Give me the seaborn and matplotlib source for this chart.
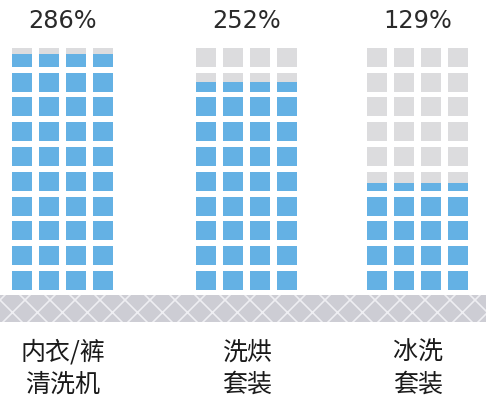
import pandas as pd
import matplotlib.pyplot as plt
import seaborn as sns

# data
categories = ['内衣/裤\n清洗机', '洗烘\n套装', '冰洗\n套装']
values = [286, 252, 129]          # percent
value_labels = ['286%', '252%', '129%']
full_scale = 300                  # 10 rows = 300%
n_rows = 10
n_cols = 4

BLUE = '#64B1E4'
GRAY = '#DCDCDE'
BAND = '#CDCDD4'

W, H, DPI = 486, 401, 150

# layout in pixels
group_left = [12, 196, 367]
col_pitch = 27.1
cell_w = 20
row_pitch = 24.8
cell_h = 19
base_y = 290


def to_rows(ypix):
    # pixel row (from top) -> data units (rows above grid bottom)
    return (base_y - ypix) / row_pitch


cells = []
for cat, val, left in zip(categories, values, group_left):
    for c in range(n_cols):
        cells.append({'cat': cat,
                      'x': left + c * col_pitch + cell_w / 2,
                      'full': n_rows,
                      'fill': val / full_scale * n_rows})
df = pd.DataFrame(cells)

sns.set_theme(style='white')
plt.rcParams['font.family'] = ['Noto Sans CJK SC', 'DejaVu Sans']
plt.rcParams['hatch.linewidth'] = 0.8

fig = plt.figure(figsize=(W / DPI, H / DPI), dpi=DPI)
ax = fig.add_axes([0, 0, 1, 1])

sns.barplot(data=df, x='x', y='full', native_scale=True, width=cell_w / col_pitch,
            color=GRAY, saturation=1, errorbar=None, linewidth=0, zorder=1, ax=ax)
sns.barplot(data=df, x='x', y='fill', native_scale=True, width=cell_w / col_pitch,
            color=BLUE, saturation=1, errorbar=None, linewidth=0, zorder=2, ax=ax)

# white gaps between rows of squares
for r in range(n_rows):
    ax.axhspan(r + cell_h / row_pitch, r + 1, color='white', lw=0, zorder=3)

# hatched ground band
ax.axhspan(to_rows(322), to_rows(295), facecolor=BAND, edgecolor='#EEEEF2',
           hatch='xx', lw=0, zorder=1)

block_w = (n_cols - 1) * col_pitch + cell_w
for cat, lab, left in zip(categories, value_labels, group_left):
    cx = left + block_w / 2
    ax.text(cx, to_rows(21), lab, ha='center', va='center', fontsize=11.5,
            family=['DejaVu Sans'], color='#2a2a2a', zorder=5)
    for i, line in enumerate(cat.split('\n')):
        ax.text(cx, to_rows(353 + 32 * i), line, ha='center', va='center',
                fontsize=12, weight='medium', color='#1a1a1a', zorder=5)

ax.set_xlim(0, W)
ax.set_ylim(to_rows(H), to_rows(0))
ax.set_axis_off()

fig.savefig('out.png', dpi=DPI)
